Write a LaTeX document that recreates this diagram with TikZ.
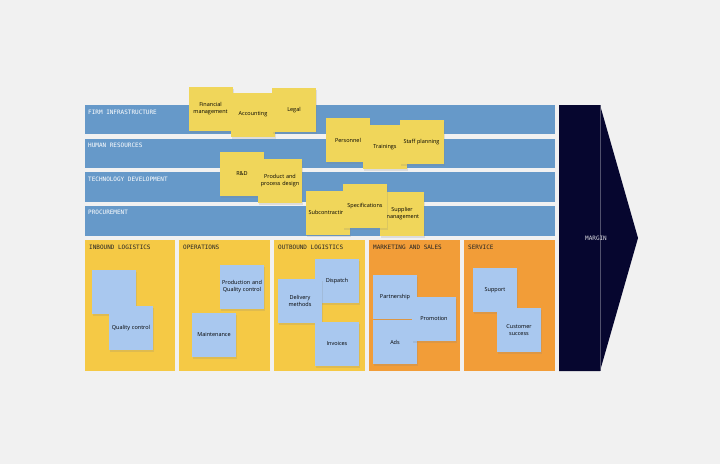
\documentclass[tikz,border=0pt]{standalone}
\usepackage{fontspec}
\setmainfont{Open Sans}
\newfontfamily\monof{DejaVu Sans Mono}
\usetikzlibrary{shadows}
\definecolor{bg}{HTML}{F1F1F1}
\definecolor{bandblue}{HTML}{6699C9}
\definecolor{boxyel}{HTML}{F5C945}
\definecolor{boxorg}{HTML}{F29D38}
\definecolor{styel}{HTML}{F0D65A}
\definecolor{stblue}{HTML}{A9C8EF}
\definecolor{navy}{HTML}{06062F}
\tikzset{
 band/.style={fill=bandblue,draw=none,minimum height=29.5pt,minimum width=470pt,inner sep=0pt},
 blab/.style={font=\monof\fontsize{6}{7}\selectfont,text=white,anchor=north west,inner sep=0pt},
 dlab/.style={font=\monof\fontsize{6}{7}\selectfont,text=black!85,anchor=north west,inner sep=0pt},
 sticky/.style={minimum width=44pt,minimum height=44pt,inner sep=1pt,text width=42pt,align=center,
   font=\fontsize{5.5}{7}\selectfont,drop shadow={opacity=0.18,shadow xshift=1pt,shadow yshift=-2pt}},
 ys/.style={sticky,fill=styel},
 bs/.style={sticky,fill=stblue},
}
\begin{document}
\begin{tikzpicture}[x=1pt,y=-1pt]
\fill[bg] (0,0) rectangle (720,464);
\useasboundingbox (0,0) rectangle (720,464);
% bands
\fill[bandblue] (85,105) rectangle (555,134) coordinate (b1);
\fill[bandblue] (85,139) rectangle (555,168);
\fill[bandblue] (85,172) rectangle (555,202);
\fill[bandblue] (85,206) rectangle (555,236);
\node[blab] (l1) at (88,110) {FIRM INFRASTRUCTURE};
\node[blab] (l2) at (88,143) {HUMAN RESOURCES};
\node[blab] (l3) at (88,177) {TECHNOLOGY DEVELOPMENT};
\node[blab] (l4) at (88,210) {PROCUREMENT};
% bottom boxes
\fill[boxyel] (85,240) rectangle (175,371);
\fill[boxyel] (179,240) rectangle (270,371);
\fill[boxyel] (274,240) rectangle (365,371);
\fill[boxorg] (369,240) rectangle (460,371);
\fill[boxorg] (464,240) rectangle (555,371);
\node[dlab] (p1) at (89,245) {INBOUND LOGISTICS};
\node[dlab] (p2) at (183,245) {OPERATIONS};
\node[dlab] (p3) at (278,245) {OUTBOUND LOGISTICS};
\node[dlab] (p4) at (373,245) {MARKETING AND SALES};
\node[dlab] (p5) at (468,245) {SERVICE};
% margin
\fill[navy] (559,105) -- (600,105) -- (638,238) -- (600,371) -- (559,371) -- cycle;
\draw[white!30!navy,line width=0.5pt] (600,105) -- (600,371);
\node[font=\monof\fontsize{6}{7}\selectfont,text=white!85!navy] (mg) at (596,238) {MARGIN};
% yellow stickies
\node[ys] (s1) at (210.5,109) {Financial management};
\node[ys] (s2) at (253,114.5) {Accounting};
\node[ys] (s3) at (294,110) {Legal};
\node[ys] (s4) at (348,140) {Personnel};
\node[ys] (s5) at (385,147) {Trainings};
\node[ys] (s6) at (421.5,142) {Staff planning};
\node[ys] (s7) at (242,174) {R\&D};
\node[ys] (s8) at (280,180.5) {Product and process design};
\node[ys] (s9) at (328,213) {Subcontracting};
\node[ys] (s10) at (402,213.5) {Supplier management};
\node[ys] (s11) at (365,206) {Specifications};
% blue stickies
\node[bs] (t1) at (114,291.5) {};
\node[bs] (t2) at (131,328) {Quality control};
\node[bs] (t3) at (242,287) {Production and Quality control};
\node[bs] (t4) at (214,335) {Maintenance};
\node[bs] (t5) at (337,281) {Dispatch};
\node[bs] (t6) at (300,301) {Delivery methods};
\node[bs] (t7) at (337,344) {Invoices};
\node[bs] (t8) at (395,297) {Partnership};
\node[bs] (t9) at (395,342) {Ads};
\node[bs] (t10) at (434,319) {Promotion};
\node[bs] (t11) at (495,290) {Support};
\node[bs] (t12) at (519,330) {Customer success};
\end{tikzpicture}
\end{document}
